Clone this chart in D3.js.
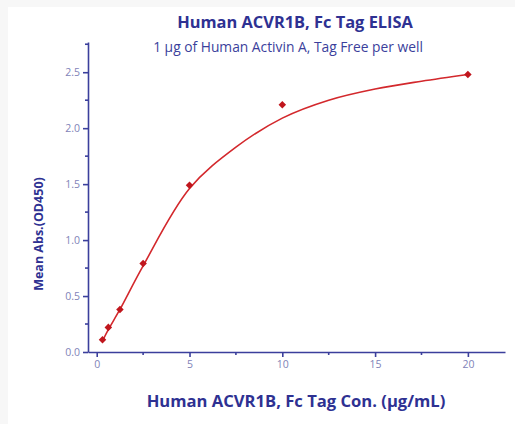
<!DOCTYPE html>
<html>
<head>
<meta charset="utf-8">
<script src="https://cdn.jsdelivr.net/npm/d3@7"></script>
<style>
  body { margin: 0; background: #f7f7f7; }
  svg { display: block; }
  .axis path, .axis line { stroke: #3b3f9c; stroke-width: 1.6px; }
  .axis text { fill: #7f83b8; font-family: "Open Sans", sans-serif; font-size: 10.5px; }
  .lbl { font-family: "Open Sans", sans-serif; }
</style>
</head>
<body>
<div id="chart"></div>
<script>
// measured points (conc in ug/mL, mean OD450)
const conc = [0.3125, 0.625, 1.25, 2.5, 5, 10, 20];
const od = [0.11, 0.22, 0.38, 0.79, 1.49, 2.21, 2.48];

// fitted curve
const fitConc = [0.3125, 0.625, 1.25, 2.5, 5, 7.5, 10, 12.5, 15, 17.5, 20];
const fitOd = [0.10, 0.20, 0.38, 0.77, 1.46, 1.83, 2.09, 2.25, 2.35, 2.42, 2.48];

const xTicks = [0, 5, 10, 15, 20];
const yTicks = [0.0, 0.5, 1.0, 1.5, 2.0, 2.5];

const W = 515, H = 424;
const svg = d3.select("#chart").append("svg")
    .attr("width", W)
    .attr("height", H);

// white panel (grey frame on top/left)
svg.append("rect")
    .attr("x", 8).attr("y", 7)
    .attr("width", W - 8).attr("height", H - 7)
    .attr("fill", "#ffffff");

const plot = {left: 88, right: 505, top: 42, bottom: 352};

const x = d3.scaleLinear().domain([-0.47, 22]).range([plot.left, plot.right]);
const y = d3.scaleLinear().domain([0, 2.77]).range([plot.bottom, plot.top]);

// axes
const xAxis = d3.axisBottom(x).tickValues(xTicks).tickSize(5).tickPadding(4).tickSizeOuter(0).tickFormat(d3.format("d"));
const yAxis = d3.axisLeft(y).tickValues(yTicks).tickSize(5).tickPadding(3).tickSizeOuter(0).tickFormat(d3.format(".1f"));

const gx = svg.append("g").attr("class", "axis").attr("transform", `translate(0,${plot.bottom})`).call(xAxis);
const gy = svg.append("g").attr("class", "axis").attr("transform", `translate(${plot.left},0)`).call(yAxis);

// minor ticks
const xMinor = d3.range(2.5, 22, 5);
const yMinor = d3.range(0.25, 2.8, 0.5);
gx.selectAll(".minor").data(xMinor).enter().append("line")
    .attr("class", "minor")
    .attr("x1", d => x(d)).attr("x2", d => x(d))
    .attr("y1", 0).attr("y2", 3);
gy.selectAll(".minor").data(yMinor).enter().append("line")
    .attr("class", "minor")
    .attr("y1", d => y(d)).attr("y2", d => y(d))
    .attr("x1", 0).attr("x2", -3);

// fit curve
const line = d3.line()
    .x((d, i) => x(fitConc[i]))
    .y(d => y(d))
    .curve(d3.curveCatmullRom.alpha(0.5));

svg.append("path")
    .datum(fitOd)
    .attr("d", line)
    .attr("fill", "none")
    .attr("stroke", "#d3282c")
    .attr("stroke-width", 1.6);

// markers (diamonds)
svg.selectAll(".pt").data(od).enter().append("path")
    .attr("class", "pt")
    .attr("transform", (d, i) => `translate(${x(conc[i])},${y(d)})`)
    .attr("d", d3.symbol().type(d3.symbolDiamond2).size(36))
    .attr("fill", "#c0161d");

// titles
svg.append("text")
    .attr("class", "lbl")
    .attr("x", 295).attr("y", 28)
    .attr("text-anchor", "middle")
    .style("font-weight", "bold")
    .style("font-size", "16.4px")
    .attr("fill", "#2e3192")
    .text("Human ACVR1B, Fc Tag ELISA");

svg.append("text")
    .attr("class", "lbl")
    .attr("x", 288).attr("y", 52)
    .attr("text-anchor", "middle")
    .style("font-size", "13.8px")
    .attr("fill", "#3b3f9c")
    .text("1 µg of Human Activin A, Tag Free per well");

svg.append("text")
    .attr("class", "lbl")
    .attr("x", 296).attr("y", 407)
    .attr("text-anchor", "middle")
    .style("font-weight", "bold")
    .style("font-size", "16.6px")
    .attr("fill", "#2e3192")
    .text("Human ACVR1B, Fc Tag Con. (µg/mL)");

svg.append("text")
    .attr("class", "lbl")
    .attr("transform", "translate(43,234) rotate(-90)")
    .attr("text-anchor", "middle")
    .style("font-weight", "bold")
    .style("font-size", "12.5px")
    .attr("fill", "#2e3192")
    .text("Mean Abs.(OD450)");
</script>
</body>
</html>
